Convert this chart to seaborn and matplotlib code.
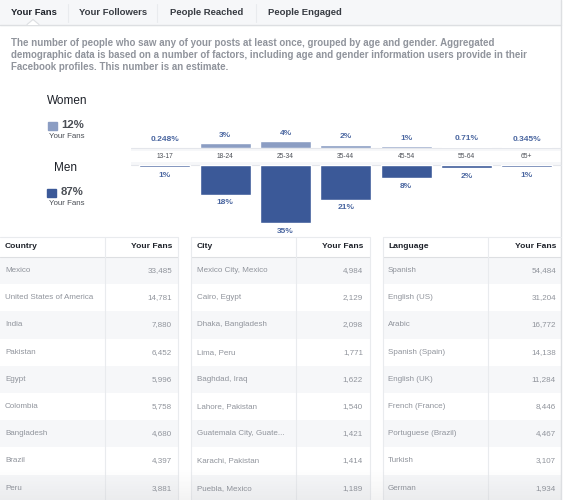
import matplotlib
matplotlib.use("Agg")
import matplotlib.pyplot as plt
import seaborn as sns
import numpy as np
import pandas as pd
from matplotlib.patches import Rectangle, Polygon

# ---------------- data ----------------
tabs = ["Your Fans", "Your Followers", "People Reached", "People Engaged"]
description = [
    "The number of people who saw any of your posts at least once, grouped by age and gender. Aggregated",
    "demographic data is based on a number of factors, including age and gender information users provide in their",
    "Facebook profiles. This number is an estimate.",
]
ages = ["13-17", "18-24", "25-34", "35-44", "45-54", "55-64", "65+"]
women_pct = [0.248, 3, 4, 2, 1, 0.71, 0.345]
men_pct = [1, 18, 35, 21, 8, 2, 1]
women_labels = ["0.248%", "3%", "4%", "2%", "1%", "0.71%", "0.345%"]
men_labels = ["1%", "18%", "35%", "21%", "8%", "2%", "1%"]
gender_names = ["Women", "Men"]
gender_totals = ["12%", "87%"]

countries = ["Mexico", "United States of America", "India", "Pakistan", "Egypt",
             "Colombia", "Bangladesh", "Brazil", "Peru"]
country_fans = [33485, 14781, 7880, 6452, 5996, 5758, 4680, 4397, 3881]
cities = ["Mexico City, Mexico", "Cairo, Egypt", "Dhaka, Bangladesh", "Lima, Peru",
          "Baghdad, Iraq", "Lahore, Pakistan", "Guatemala City, Guate...",
          "Karachi, Pakistan", "Puebla, Mexico"]
city_fans = [4984, 2129, 2098, 1771, 1622, 1540, 1421, 1414, 1189]
languages = ["Spanish", "English (US)", "Arabic", "Spanish (Spain)", "English (UK)",
             "French (France)", "Portuguese (Brazil)", "Turkish", "German"]
language_fans = [54484, 31204, 16772, 14138, 11284, 8446, 4467, 3107, 1934]

# ---------------- style ----------------
sns.set_style("white")
plt.rcParams["font.family"] = ["Liberation Sans", "DejaVu Sans"]

WOMEN = "#8b9dc3"
MEN = "#3b5998"
LABEL = "#4a66a0"
DARK = "#1d2129"
MID = "#4b4f56"
GRAY = "#90949c"
LIGHT_BG = "#f6f7f9"
LINE = "#dddfe2"
LINE2 = "#e9ebee"

W, H = 565, 500
fig = plt.figure(figsize=(W / 100, H / 100), dpi=100)
bg = fig.add_axes([0, 0, 1, 1])
bg.set_xlim(0, W)
bg.set_ylim(H, 0)
bg.axis("off")

# ---- tab bar ----
bg.add_patch(Rectangle((0, 0), 561, 24.5, color=LIGHT_BG, zorder=0))
bg.plot([0, 561], [24.5, 24.5], color=LINE, lw=1, zorder=1)
bg.add_patch(Polygon([(27, 25), (33, 19.5), (39, 25)], closed=True,
                     facecolor="white", edgecolor="none", zorder=2))
bg.plot([27, 33, 39], [24.5, 19.5, 24.5], color=LINE, lw=0.8, zorder=3)
tab_x = [11, 79, 170, 268]
for i, (t, x) in enumerate(zip(tabs, tab_x)):
    bg.text(x, 12.5, t, fontsize=6.8, fontweight="bold",
            color=DARK if i == 0 else "#373b42", ha="left", va="center")
for sx in [68, 157, 256]:
    bg.plot([sx, sx], [4, 22], color=LINE2, lw=0.8)

# right border
bg.plot([561, 561], [0, H], color=LINE, lw=1)

# ---- description ----
for j, line in enumerate(description):
    bg.text(11, 43.5 + 11.7 * j, line, fontsize=7.05, fontweight="bold",
            color=GRAY, ha="left", va="center")

# ---- gender legend ----
bg.text(46.5, 100.5, gender_names[0], fontsize=8.5, color=DARK, ha="left", va="center")
bg.add_patch(Rectangle((48, 121.5), 8.5, 8, color=WOMEN))
bg.text(61, 125, gender_totals[0], fontsize=8.2, fontweight="bold", color=MID, ha="left", va="center")
bg.text(49, 136, "Your Fans", fontsize=5.7, color=MID, ha="left", va="center")
bg.text(54, 168, gender_names[1], fontsize=8.5, color=DARK, ha="left", va="center")
bg.add_patch(Rectangle((47, 188.5), 8.5, 8, color=MEN))
bg.text(61, 192, gender_totals[1], fontsize=8.2, fontweight="bold", color=MID, ha="left", va="center")
bg.text(49, 203.5, "Your Fans", fontsize=5.7, color=MID, ha="left", va="center")

# ---- age band ----
bg.add_patch(Rectangle((131, 148), 430, 17, facecolor="#f6f7f9", edgecolor="none", zorder=1))
bg.add_patch(Rectangle((131, 151), 430, 11, facecolor="white", edgecolor="none", zorder=1))
bg.plot([131, 561], [148, 148], color="#e4e6eb", lw=0.8, zorder=2)
bg.plot([131, 561], [165, 165], color="#e4e6eb", lw=0.8, zorder=2)

# ---- bars (seaborn) ----
PX = 1.66        # pixels per percent
left, width = 134.85, 422.0
wtop = 30
mbot = 45
ax_w = fig.add_axes([left / W, (H - 148) / H, width / W, wtop * PX / H])
ax_m = fig.add_axes([left / W, (H - 165 - mbot * PX) / H, width / W, mbot * PX / H])

df = pd.DataFrame({"age": ages, "women": women_pct, "men": men_pct})
sns.barplot(data=df, x="age", y="women", ax=ax_w, color=WOMEN, saturation=1,
            width=0.846, order=ages)
sns.barplot(data=df, x="age", y="men", ax=ax_m, color=MEN, saturation=1,
            width=0.846, order=ages)
ax_w.set_ylim(0, wtop)
ax_m.set_ylim(mbot, 0)
for ax in (ax_w, ax_m):
    ax.set_xlim(-0.5, len(ages) - 0.5)
    ax.patch.set_alpha(0)
    ax.set_axis_off()

for i, (v, lbl) in enumerate(zip(women_pct, women_labels)):
    ax_w.text(i, v + 8 / PX, lbl, ha="center", va="center", fontsize=6.0,
              fontweight="bold", color=LABEL, clip_on=False)
for i, (v, lbl) in enumerate(zip(men_pct, men_labels)):
    ax_m.text(i, max(v, 1.4) + 8 / PX, lbl, ha="center", va="center", fontsize=6.0,
              fontweight="bold", color=LABEL, clip_on=False)
for i, a in enumerate(ages):
    ax_m.text(i, -8.5 / PX, a, ha="center", va="center", fontsize=4.8,
              color=MID, clip_on=False)

# ---- tables ----
ROW0, ROWH = 257.0, 27.2
HEAD_Y = 247.0


def draw_panel(x0, x1, xsep, name_x, val_x, header, names, values):
    bg.add_patch(Rectangle((x0, 237), x1 - x0, 20, facecolor="white", edgecolor="none"))
    for k in range(len(names)):
        y = ROW0 + ROWH * k
        fc = LIGHT_BG if k % 2 == 0 else "white"
        bg.add_patch(Rectangle((x0, y), x1 - x0, ROWH, facecolor=fc, edgecolor="none"))
        bg.text(name_x, y + ROWH / 2, names[k], fontsize=5.8, color=GRAY,
                ha="left", va="center")
        bg.text(val_x, y + ROWH / 2, f"{values[k]:,}", fontsize=5.8, color=GRAY,
                ha="right", va="center")
    bg.text(name_x, HEAD_Y, header, fontsize=6.1, fontweight="bold", color=DARK,
            ha="left", va="center")
    bg.text(val_x, HEAD_Y, "Your Fans", fontsize=6.1, fontweight="bold", color=DARK,
            ha="right", va="center")
    bg.plot([x0, x1], [236.5, 236.5], color=LINE2, lw=0.8)
    bg.plot([x0, x1], [257, 257], color=LINE, lw=0.8)
    bg.plot([xsep, xsep], [237, H], color=LINE2, lw=0.8)
    for xx in (x0, x1):
        if 0 < xx < 561:
            bg.plot([xx, xx], [237, H], color=LINE2, lw=0.8)


draw_panel(0, 178, 105, 5, 172, "Country", countries, country_fans)
draw_panel(191, 370, 296, 197, 363, "City", cities, city_fans)
draw_panel(383, 561, 488, 388, 556, "Language", languages, language_fans)

# subtle bottom shading like the screenshot (gray overlay, alpha ramp)
ramp = np.linspace(0, 0.07, 40)
shade = np.zeros((40, 1, 4))
shade[:, 0, :3] = 0.35
shade[:, 0, 3] = ramp
bg.imshow(shade, extent=(0, 561, 500, 468), aspect="auto", zorder=5,
          interpolation="bilinear")
bg.set_xlim(0, W)
bg.set_ylim(H, 0)

fig.savefig("out.png", dpi=100)
